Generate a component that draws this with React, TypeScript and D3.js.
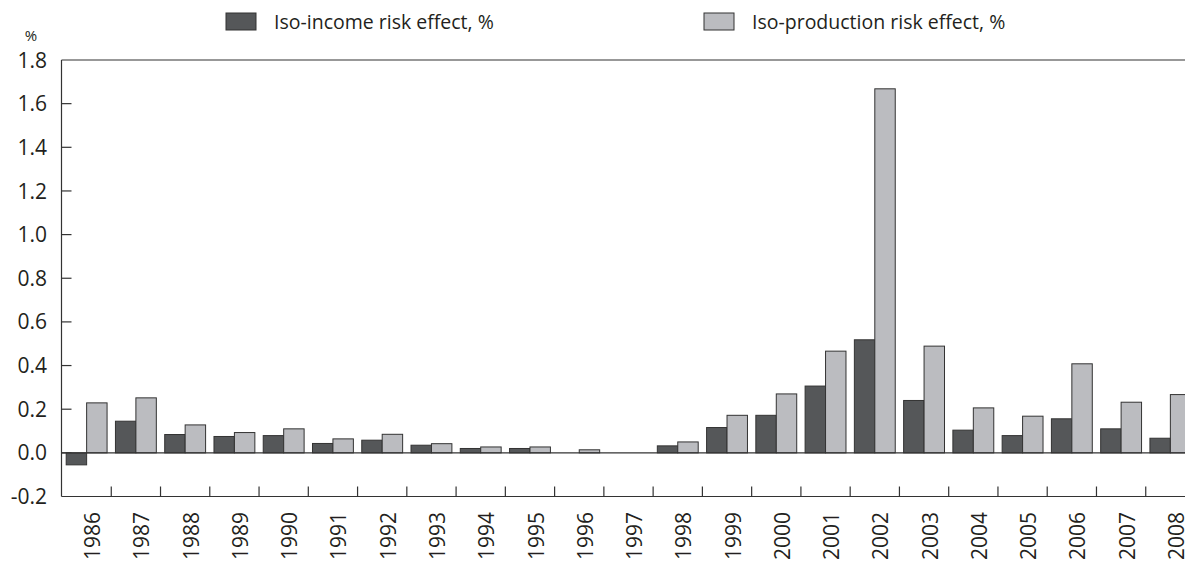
import * as d3 from 'd3';
import { useEffect } from 'react';

const years = [
  '1986', '1987', '1988', '1989', '1990', '1991', '1992', '1993', '1994', '1995', '1996', '1997',
  '1998', '1999', '2000', '2001', '2002', '2003', '2004', '2005', '2006', '2007', '2008',
];

const isoIncome = [
  -0.055, 0.145, 0.084, 0.075, 0.079, 0.043, 0.058, 0.035, 0.02, 0.02, 0, 0,
  0.032, 0.116, 0.172, 0.306, 0.518, 0.24, 0.104, 0.079, 0.156, 0.11, 0.067,
];

const isoProduction = [
  0.229, 0.252, 0.128, 0.093, 0.11, 0.064, 0.085, 0.042, 0.027, 0.027, 0.014, 0,
  0.05, 0.172, 0.27, 0.466, 1.668, 0.489, 0.206, 0.168, 0.408, 0.232, 0.267,
];

const yTicks = [-0.2, 0, 0.2, 0.4, 0.6, 0.8, 1.0, 1.2, 1.4, 1.6, 1.8];

const series = [
  { key: 'income', label: 'Iso-income risk effect, %', values: isoIncome, color: '#555759' },
  { key: 'production', label: 'Iso-production risk effect, %', values: isoProduction, color: '#bbbcc0' },
];

const width = 1185;
const height = 561;
const font = "'Open Sans', 'Noto Sans', sans-serif";
const ink = '#231f20';

export default function App() {
  useEffect(() => {
    document.body.style.margin = '0';
  }, []);

  const plotLeft = 61.5;
  const x = d3.scaleBand<string>().domain(years).range([62, 1195]).padding(0);
  const inner = d3
    .scaleBand<string>()
    .domain(series.map((s) => s.key))
    .range([0, x.bandwidth()])
    .paddingInner(0)
    .paddingOuter(0.205);
  const y = d3.scaleLinear().domain([-0.2, 1.8]).range([496.5, 60]);
  const legendX = [226, 704];

  return (
    <svg width={width} height={height} style={{ display: 'block' }} fontFamily={font}>
      <rect width={width} height={height} fill="#ffffff" />

      {/* legend */}
      {series.map((s, i) => (
        <g key={s.key} transform={`translate(${legendX[i]},13)`}>
          <rect width={30} height={17} fill={s.color} stroke="#333" strokeWidth={1} />
          <text x={48} y={16} fontSize={19.5} fill={ink}>
            {s.label}
          </text>
        </g>
      ))}

      <text x={31} y={41} fontSize={15} textAnchor="middle" fill={ink}>
        %
      </text>

      {/* frame */}
      <line x1={plotLeft} x2={width} y1={60} y2={60} stroke="#333" strokeWidth={1.2} />
      <line x1={plotLeft} x2={plotLeft} y1={60} y2={y(-0.2)} stroke="#333" strokeWidth={1.2} />
      <line x1={plotLeft} x2={width} y1={y(-0.2)} y2={y(-0.2)} stroke="#333" strokeWidth={1.2} />

      {/* y axis */}
      {yTicks.map((t) => (
        <g key={t}>
          {t > -0.2 && t < 1.8 && (
            <line x1={plotLeft} x2={plotLeft + 10} y1={y(t)} y2={y(t)} stroke="#333" strokeWidth={1.2} />
          )}
          <text x={47} y={y(t)} dy="0.36em" fontSize={21} textAnchor="end" fill={ink}>
            {t.toFixed(1)}
          </text>
        </g>
      ))}

      {/* bars */}
      {series.map((s) => (
        <g key={s.key}>
          {years.map((yr, i) => {
            const v = s.values[i];
            if (v === 0) return null;
            return (
              <rect
                key={yr}
                x={(x(yr) ?? 0) + (inner(s.key) ?? 0)}
                y={y(Math.max(0, v))}
                width={inner.bandwidth()}
                height={Math.abs(y(v) - y(0))}
                fill={s.color}
                stroke="#333"
                strokeWidth={1}
              />
            );
          })}
        </g>
      ))}

      {/* zero line */}
      <line x1={plotLeft} x2={width} y1={y(0)} y2={y(0)} stroke="#333" strokeWidth={1.2} />

      {/* x ticks & labels */}
      {years.map((yr, i) => {
        const bx = x(yr) ?? 0;
        const cx = bx + x.bandwidth() / 2 + 6;
        return (
          <g key={yr}>
            {i > 0 && <line x1={bx} x2={bx} y1={y(-0.2) - 10} y2={y(-0.2)} stroke="#333" strokeWidth={1.2} />}
            <text
              transform={`translate(${cx},512) rotate(-90)`}
              dy="0.36em"
              fontSize={21}
              textAnchor="end"
              fill={ink}
            >
              {yr}
            </text>
          </g>
        );
      })}
    </svg>
  );
}
